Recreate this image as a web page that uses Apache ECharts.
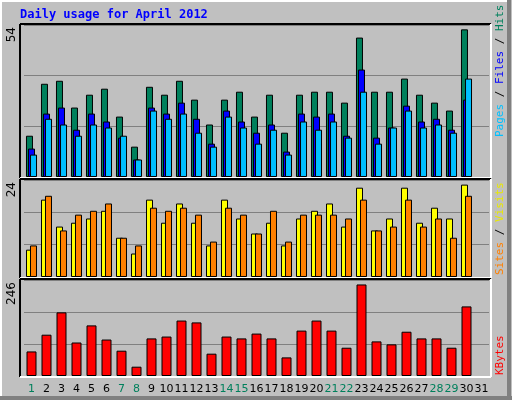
<!DOCTYPE html>
<html><head><meta charset="utf-8">
<script src="https://cdn.jsdelivr.net/npm/echarts@6/dist/echarts.min.js"></script>
<style>html,body{margin:0;padding:0;background:#c0c0c0}#c{width:512px;height:400px}</style>
</head><body><div id="c"></div>
<script>
const days = Array.from({length:31},(_,i)=>String(i+1));
const weekend = ['1','7','8','14','15','21','22','28','29'];
const hits  = [15.1,34.1,35.2,25.4,30.1,32.3,22.1,11.1,33.0,30.1,35.2,28.3,19.2,28.3,31.2,22.1,30.1,16.2,30.1,31.2,31.2,27.2,51.0,31.2,31.2,36.0,30.1,27.2,24.3,54,null];
const files = [10.4,23.2,25.4,17.3,23.2,20.3,14.4,6.4,25.4,23.2,27.2,21.3,12.2,24.3,20.3,16.2,19.2,9.3,23.2,22.1,23.2,15.1,39.3,14.4,18.1,26.1,20.3,21.3,17.3,28.3,null];
const pages = [8.2,21.3,19.2,15.1,19.2,18.1,15.1,6.4,24.3,21.3,23.2,16.2,11.1,22.1,18.1,12.2,17.3,8.2,20.3,17.3,20.3,14.4,31.2,12.2,18.1,24.3,18.1,19.2,16.2,36.0,null];
const visits= [7.1,20.1,13.1,14.1,15.2,17.2,10.2,6.1,20.1,14.1,19.1,14.1,8.2,20.1,15.2,11.3,14.1,8.2,15.2,17.2,19.1,13.1,23.2,12.1,15.2,23.2,14.1,18.0,15.2,24,null];
const sites = [8.2,21.1,12.1,16.2,17.2,19.1,10.2,8.2,18.0,17.2,18.0,16.2,9.2,18.0,16.2,11.3,17.2,9.2,16.2,16.2,16.2,15.2,20.1,12.1,13.1,20.1,13.1,15.2,10.2,21.1,null];
const kbytes= [66,111,171,90,136,98,68,25,101,106,149,144,60,106,101,114,101,50,122,149,122,76,246,93,85,119,101,101,76,187,null];
const maxLabels = ['54','24','246'];

const panels = [[25,177,55.6],[180,277,25.2],[280,376,258]];
const grids = panels.map(p=>({left:24,width:465,top:p[0],height:p[1]-p[0]}));
const mono = 'DejaVu Sans Mono';
const xAxes = panels.map((p,i)=>({type:'category',gridIndex:i,data:days,
  axisLine:{show:false},axisTick:{show:false},
  axisLabel:{show:i===2,margin:8,fontFamily:'DejaVu Sans',fontSize:11,interval:0,
    formatter:v=>weekend.includes(v)?'{w|'+v+'}':'{d|'+v+'}',
    rich:{w:{color:'#00805c',fontSize:11,fontFamily:'DejaVu Sans'},d:{color:'#000',fontSize:11,fontFamily:'DejaVu Sans'}}}}));
const yAxes = panels.map((p,i)=>({type:'value',gridIndex:i,min:0,max:p[2],interval:p[2]/3,
  axisLabel:{show:false},axisLine:{show:false},axisTick:{show:false},
  splitLine:{lineStyle:{color:'#808080',width:1}}}));
const bs = (name,data,color,xi,w,gap)=>({type:'bar',name,data,xAxisIndex:xi,yAxisIndex:xi,barWidth:w,barGap:gap,
  itemStyle:{color,borderColor:'#000',borderWidth:1},animation:false});
const series = [
  bs('Hits',hits,'#00805c',0,7,'-71%'),bs('Files',files,'#0000ff',0,7,'-71%'),bs('Pages',pages,'#00c0ff',0,7,'-71%'),
  bs('Visits',visits,'#ffff00',1,7,'-43%'),bs('Sites',sites,'#ff8000',1,7,'-43%'),
  bs('KBytes',kbytes,'#ff0000',2,10,'0%')];

const g = [];
// outer 3D border
g.push({type:'line',shape:{x1:0,y1:1,x2:511,y2:1},style:{stroke:'#fff',lineWidth:2},z:100});
g.push({type:'line',shape:{x1:1,y1:0,x2:1,y2:399},style:{stroke:'#fff',lineWidth:2},z:100});
g.push({type:'line',shape:{x1:0,y1:398,x2:512,y2:398},style:{stroke:'#808080',lineWidth:4},z:100});
g.push({type:'line',shape:{x1:509,y1:0,x2:509,y2:400},style:{stroke:'#808080',lineWidth:4},z:100});
panels.forEach((p,i)=>{
  const t=p[0]-1,b=p[1]+1,l=20,r=491;
  g.push({type:'line',shape:{x1:l,y1:t,x2:r,y2:t},style:{stroke:'#000',lineWidth:2},z:100});
  g.push({type:'line',shape:{x1:l,y1:t,x2:l,y2:b},style:{stroke:'#000',lineWidth:2},z:100});
  g.push({type:'line',shape:{x1:l,y1:b,x2:r,y2:b},style:{stroke:'#fff',lineWidth:2},z:100});
  g.push({type:'line',shape:{x1:r,y1:t,x2:r,y2:b},style:{stroke:'#fff',lineWidth:2},z:100});
  g.push({type:'text',x:12,y:p[0]+2,rotation:Math.PI/2,z:100,
    style:{text:maxLabels[i],fill:'#000',font:'12px DejaVu Sans',align:'right',verticalAlign:'middle'}});
});
g.push({type:'text',x:20,y:15,z:100,style:{text:'Daily usage for April 2012',fill:'#0000ff',font:'bold 12px '+mono,verticalAlign:'middle'}});
const rl=(y,parts)=>{g.push({type:'text',x:500,y,rotation:Math.PI/2,z:100,
  style:{text:parts.map((p,k)=>'{s'+k+'|'+p[0]+'}').join(''),align:'left',verticalAlign:'middle',
   rich:Object.fromEntries(parts.map((p,k)=>['s'+k,{fill:p[1],font:'11px '+mono}]))}});};
rl(137,[['Pages','#00c0ff'],[' / ','#000'],['Files','#0000ff'],[' / ','#000'],['Hits','#00805c']]);
rl(275,[['Sites','#ff8000'],[' / ','#000'],['Visits','#e8e800']]);
rl(375,[['KBytes','#ff0000']]);

const chart = echarts.init(document.getElementById('c'));
chart.setOption({backgroundColor:'#c0c0c0',animation:false,grid:grids,xAxis:xAxes,yAxis:yAxes,series,graphic:g});
</script></body></html>
